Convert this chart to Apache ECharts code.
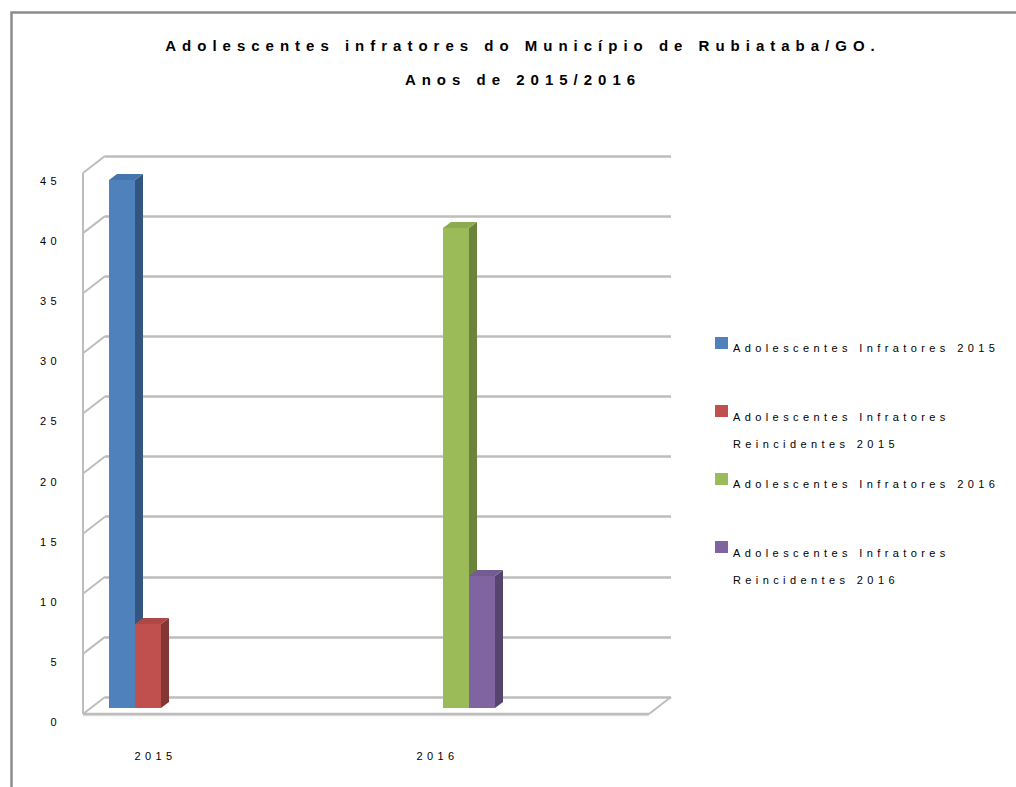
<!DOCTYPE html>
<html><head><meta charset="utf-8">
<script src="https://cdn.jsdelivr.net/npm/echarts@6/dist/echarts.min.js"></script>
<style>
html,body{margin:0;padding:0;background:#fff;}
#chart{width:1016px;height:787px;}
#chart svg text{letter-spacing:0.4em;}
</style></head><body><div id="chart"></div>
<script>
const categories = ['2015', '2016'];
const seriesNames = [
  'Adolescentes Infratores 2015',
  'Adolescentes Infratores Reincidentes 2015',
  'Adolescentes Infratores 2016',
  'Adolescentes Infratores Reincidentes 2016'
];
const infratores2015 = [44, null];
const reincidentes2015 = [7, null];
const infratores2016 = [null, 40];
const reincidentes2016 = [null, 11];
const yTicks = [0, 5, 10, 15, 20, 25, 30, 35, 40, 45];
const yMax = 45, yStep = 5;
const titleLines = ['Adolescentes infratores do Município de Rubiataba/GO.', 'Anos de 2015/2016'];

const seriesValues = [infratores2015, reincidentes2015, infratores2016, reincidentes2016];
const palette = [
  {front: '#4f81bd', side: '#34557f', top: '#4675ad'},
  {front: '#c0504d', side: '#843634', top: '#ad4845'},
  {front: '#9bbb59', side: '#6b833b', top: '#8eab51'},
  {front: '#8064a2', side: '#56446f', top: '#745b94'}
];

function barRenderer(k, col) {
  return function (params, api) {
    const v = api.value(1);
    if (v == null || isNaN(v)) return null;
    const base = api.coord([api.value(0), 0]);
    const top = api.coord([api.value(0), v]);
    const bw = 26, dx = 8, dy = 6;
    const x0 = base[0] + (k - 2) * bw, x1 = x0 + bw;
    const yt = top[1], yb = base[1];
    return {
      type: 'group',
      children: [
        {type: 'polygon', shape: {points: [[x0, yt], [x1, yt], [x1, yb], [x0, yb]]}, style: {fill: col.front}},
        {type: 'polygon', shape: {points: [[x1, yt], [x1 + dx, yt - dy], [x1 + dx, yb - dy], [x1, yb]]}, style: {fill: col.side}},
        {type: 'polygon', shape: {points: [[x0, yt], [x0 + dx, yt - dy], [x1 + dx, yt - dy], [x1, yt]]}, style: {fill: col.top}}
      ]
    };
  };
}

const wallLine = {stroke: '#bdbdbd', lineWidth: 2};
function wallRenderer(params, api) {
  const v = api.value(1);
  const p = api.coord([0, v]);
  const pr = api.coord([1, v]);
  const dx = 22, dy = 17;
  const children = [
    {type: 'line', shape: {x1: p[0], y1: p[1], x2: p[0] - dx, y2: p[1] + dy}, style: wallLine}
  ];
  if (v === 0) {
    const pt = api.coord([0, yMax]);
    children.push({type: 'line', shape: {x1: p[0] - dx, y1: pt[1] + dy, x2: p[0] - dx, y2: p[1] + dy}, style: wallLine});
    children.push({type: 'line', shape: {x1: p[0] - dx, y1: p[1] + dy + 1.5, x2: pr[0] - dx, y2: pr[1] + dy + 1.5},
      style: {stroke: '#e2e2e2', lineWidth: 1.5}});
    children.push({type: 'line', shape: {x1: p[0] - dx, y1: p[1] + dy, x2: pr[0] - dx, y2: pr[1] + dy},
      style: {stroke: '#bdbdbd', lineWidth: 2.5}});
    children.push({type: 'line', shape: {x1: pr[0] - dx, y1: pr[1] + dy, x2: pr[0], y2: pr[1]}, style: wallLine});
  }
  return {type: 'group', children};
}

const textFont = 'Liberation Sans, Arial, sans-serif';

const chart = echarts.init(document.getElementById('chart'), null, {renderer: 'svg'});
chart.setOption({
  animation: false,
  backgroundColor: '#fff',
  title: {
    text: titleLines.join('\n'),
    left: 523,
    top: 28,
    padding: 0,
    textAlign: 'center',
    textStyle: {fontFamily: textFont, fontSize: 15, fontWeight: 'bold', color: '#000', lineHeight: 34}
  },
  graphic: [{
    type: 'rect', left: 9, top: 10, silent: true,
    shape: {x: 0, y: 0, width: 1100, height: 900},
    style: {fill: 'none', stroke: '#8c8c8c', lineWidth: 2.5}
  }],
  legend: seriesNames.map((name, i) => {
    const twoLine = name.indexOf('Reincidentes') >= 0;
    const h = twoLine ? 51 : 22;
    const tops = [337, 403.5, 473, 539.5];
    return {
      data: [name], orient: 'vertical', left: 715, top: tops[i], padding: 0,
      itemWidth: 13, itemHeight: h, icon: 'path://M0,0H13V12H0Z M0,' + h,
      selectedMode: false,
      formatter: n => n.replace(' Reincidentes', '\nReincidentes'),
      textStyle: {
        fontFamily: textFont, fontSize: 11, color: '#000',
        lineHeight: twoLine ? 27 : 16
      }
    };
  }),
  grid: [
    {left: 20, width: 564, top: 168, bottom: 79},
    {left: 105, width: 566, top: 156, bottom: 90},
    {left: 83, width: 10, top: 181, bottom: 65}
  ],
  xAxis: [
    {gridIndex: 0, type: 'category', data: categories, boundaryGap: true,
      axisLine: {show: false}, axisTick: {show: false}, splitLine: {show: false},
      axisLabel: {margin: 42, fontFamily: textFont, fontSize: 11, color: '#000', padding: [0, 11, 0, 0]}},
    {gridIndex: 1, type: 'value', min: 0, max: 1, show: false},
    {gridIndex: 2, type: 'value', min: 0, max: 1, show: false}
  ],
  yAxis: [
    {gridIndex: 0, type: 'value', min: 0, max: yMax, interval: yStep, show: false},
    {gridIndex: 1, type: 'value', min: 0, max: yMax, interval: yStep,
      axisLine: {show: false}, axisTick: {show: false}, axisLabel: {show: false},
      splitLine: {show: true, lineStyle: {color: '#bdbdbd', width: 2.5}}},
    {gridIndex: 2, type: 'value', min: 0, max: yMax, interval: yStep,
      axisLine: {show: false}, axisTick: {show: false}, splitLine: {show: false},
      axisLabel: {margin: 22, fontFamily: textFont, fontSize: 11, color: '#000'}}
  ],
  series: [
    {
      type: 'custom', name: 'wall', xAxisIndex: 1, yAxisIndex: 1, silent: true, z: 1,
      data: yTicks.map(v => [0, v]), renderItem: wallRenderer
    }
  ].concat(seriesNames.map((name, k) => ({
    type: 'custom', name: name, xAxisIndex: 0, yAxisIndex: 0, z: 3, silent: true,
    itemStyle: {color: palette[k].front},
    encode: {x: 0, y: 1},
    data: seriesValues[k].map((v, i) => [i, v]).filter(d => d[1] != null),
    renderItem: barRenderer(k, palette[k])
  })))
});
</script></body></html>
